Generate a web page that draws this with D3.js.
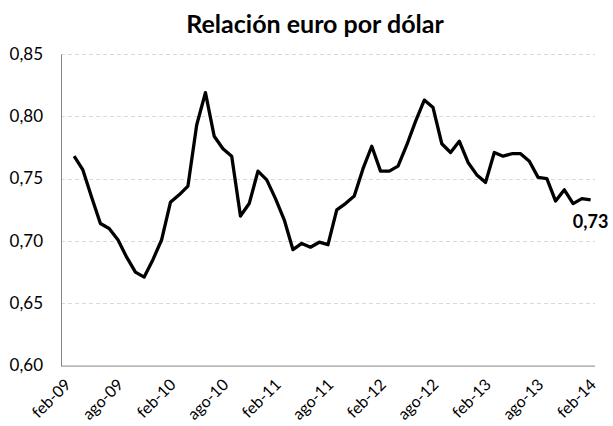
<!DOCTYPE html>
<html>
<head>
<meta charset="utf-8">
<script src="https://cdn.jsdelivr.net/npm/d3@7"></script>
<style>
  body { margin: 0; background: #fff; }
  text { font-family: Lato, "Open Sans", sans-serif; fill: #000; }
</style>
</head>
<body>
<div id="container"><svg id="drawing_area" width="613" height="426"></svg></div>
<script>
// months shown on the category axis (feb-09 .. feb-14)
var months = ["ene", "feb", "mar", "abr", "may", "jun", "jul", "ago", "sep", "oct", "nov", "dic"]
var categories = []
for (var yr = 9; yr <= 14; yr++) {
    for (var m = 0; m < 12; m++) {
        var label = months[m] + "-" + (yr < 10 ? "0" + yr : yr)
        categories.push(label)
        if (label == "feb-14") break
    }
}
categories = categories.slice(categories.indexOf("feb-09"))

// euro per dollar, mar-09 .. feb-14 (feb-09 has no value)
var values = [
    null,
    0.768, 0.757, 0.735, 0.714, 0.710, 0.701, 0.687, 0.675, 0.671, 0.685, 0.701,
    0.731, 0.737, 0.744, 0.793, 0.819, 0.784, 0.774, 0.768, 0.720, 0.730, 0.756, 0.749,
    0.734, 0.717, 0.693, 0.698, 0.695, 0.699, 0.697, 0.725, 0.730, 0.736, 0.758, 0.776,
    0.756, 0.756, 0.760, 0.777, 0.796, 0.813, 0.807, 0.778, 0.771, 0.780, 0.763, 0.753,
    0.747, 0.771, 0.768, 0.770, 0.770, 0.764, 0.751, 0.750, 0.732, 0.741, 0.730, 0.734,
    0.733
]
var tickLabels = ["feb-09", "ago-09", "feb-10", "ago-10", "feb-11", "ago-11",
                  "feb-12", "ago-12", "feb-13", "ago-13", "feb-14"]
var yTicks = [0.60, 0.65, 0.70, 0.75, 0.80, 0.85]
var lastLabel = "0,73"

var margin = {left: 61, right: 18, top: 54, bottom: 60}
var width = 613, height = 426

var svg = d3.select("#drawing_area")

var x = d3.scalePoint()
    .domain(categories)
    .range([margin.left, width - margin.right])
    .padding(0.5)

var y = d3.scaleLinear()
    .domain([0.60, 0.85])
    .range([height - margin.bottom - 0.4, margin.top])

var fmt = function(d) { return d3.format(".2f")(d).replace(".", ",") }

// Gridlines
svg.append("g")
    .selectAll("line")
    .data(yTicks.slice(1))
    .enter().append("line")
    .attr("x1", margin.left)
    .attr("x2", width - margin.right)
    .attr("y1", function(d) { return Math.round(y(d)) + 0.5 })
    .attr("y2", function(d) { return Math.round(y(d)) + 0.5 })
    .attr("stroke", "#d9d9d9")
    .attr("stroke-width", 1)
    .attr("stroke-dasharray", "4,3")

// Y axis
var yAxis = svg.append("g")
    .attr("transform", "translate(" + margin.left + ",0)")
    .call(d3.axisLeft(y).tickValues(yTicks).tickFormat(fmt).tickSize(0).tickPadding(18))
yAxis.select(".domain").attr("stroke", "#868686")
yAxis.selectAll("text")
    .style("font-size", "17px")
    .attr("dy", "0.3em")

// X axis
var xAxis = svg.append("g")
    .attr("transform", "translate(0," + y(0.60) + ")")
    .call(d3.axisBottom(x).tickValues(tickLabels).tickSize(0).tickPadding(0))
xAxis.select(".domain").attr("stroke", "#868686")
    .attr("d", "M" + margin.left + ",0.5H" + (width - margin.right))
xAxis.selectAll("text")
    .style("font-size", "16px")
    .attr("text-anchor", "end")
    .attr("y", 0)
    .attr("dy", 0)
    .attr("transform", "translate(6,20) rotate(-45)")

// Line
var line = d3.line()
    .defined(function(d) { return d != null })
    .x(function(d, i) { return x(categories[i]) })
    .y(function(d) { return y(d) })

svg.append("path")
    .datum(values)
    .attr("fill", "none")
    .attr("stroke", "#000")
    .attr("stroke-width", 3.3)
    .attr("stroke-linejoin", "round")
    .attr("d", line)

// Label for last value
var n = values.length - 1
svg.append("text")
    .attr("x", x(categories[n]))
    .attr("y", y(values[n]) + 28)
    .attr("text-anchor", "middle")
    .style("font-size", "18px")
    .style("font-weight", "bold")
    .text(lastLabel)

// Title
svg.append("text")
    .attr("x", 315)
    .attr("y", 33)
    .attr("text-anchor", "middle")
    .style("font-size", "25px")
    .style("font-weight", "bold")
    .text("Relación euro por dólar")
</script>
</body>
</html>
